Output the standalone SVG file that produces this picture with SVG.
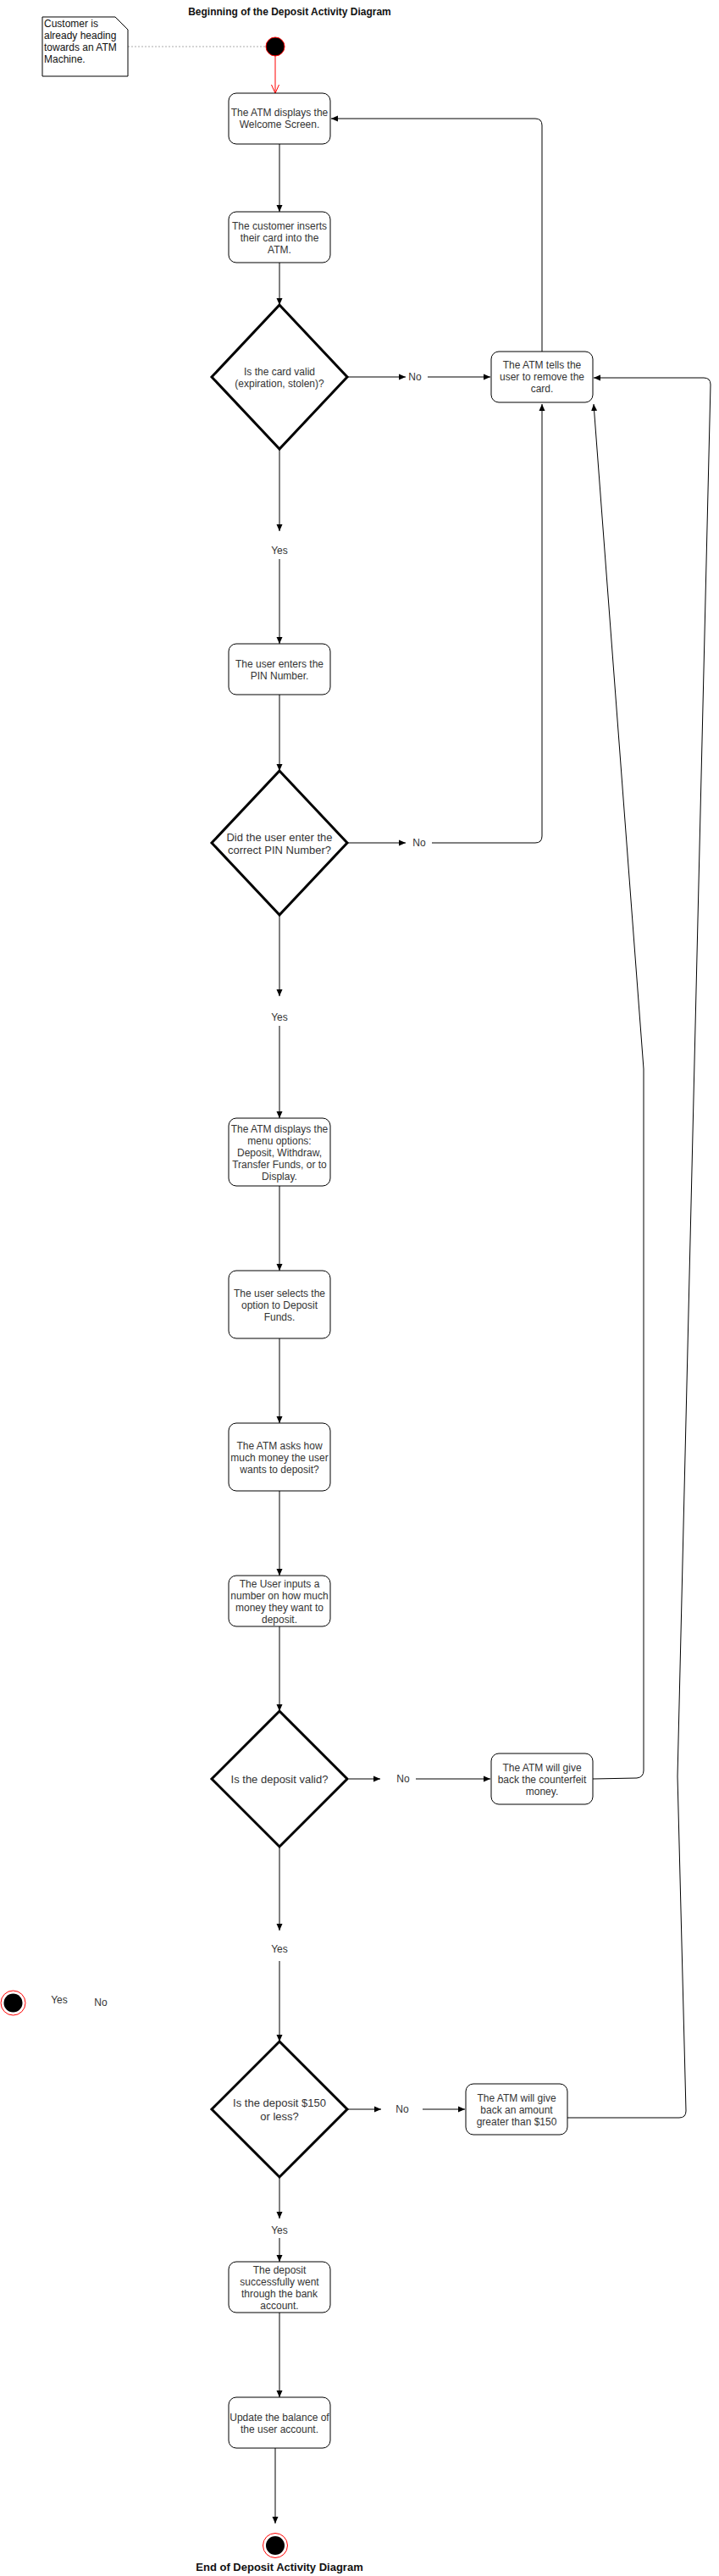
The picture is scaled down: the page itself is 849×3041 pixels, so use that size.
<svg xmlns="http://www.w3.org/2000/svg" width="849" height="3041" viewBox="0 0 849 3041">
<style>
text{font-family:"Liberation Sans",Arial,Helvetica,sans-serif;font-size:12px;fill:#333;text-anchor:middle}
.t13{font-size:13px}
.bold{font-weight:bold;fill:#111}
.left{text-anchor:start;fill:#111}
.box{fill:#fff;stroke:#000;stroke-width:1}
.dia{fill:#fff;stroke:#000;stroke-width:3}
.c{fill:none;stroke:#000;stroke-width:1}
</style>
<defs>
<marker id="arr" viewBox="0 0 8 8" refX="8" refY="4" markerWidth="8" markerHeight="8" markerUnits="userSpaceOnUse" orient="auto"><path d="M0,0.5 L8,4 L0,7.5 Z" fill="#000"/></marker>
<marker id="open" viewBox="0 0 10 10" refX="10" refY="5" markerWidth="10" markerHeight="10" markerUnits="userSpaceOnUse" orient="auto"><path d="M0,0.5 L10,5 L0,9.5" fill="none" stroke="#f00" stroke-width="1"/></marker>
</defs>
<rect width="849" height="3041" fill="#fff"/>

<g id="connectors">
<path d="M151,55 L314,55" fill="none" stroke="#aaa" stroke-width="1" stroke-dasharray="2 2"/>
<path d="M325,66 L325,110" fill="none" stroke="#f00" marker-end="url(#open)"/>
<path class="c" d="M330,170 L330,250" marker-end="url(#arr)"/>
<path class="c" d="M330,310 L330,360" marker-end="url(#arr)"/>
<path class="c" d="M330,530 L330,627" marker-end="url(#arr)"/>
<path class="c" d="M330,660 L330,760" marker-end="url(#arr)"/>
<path class="c" d="M330,810 L330,910" marker-end="url(#arr)"/>
<path class="c" d="M330,1080 L330,1176" marker-end="url(#arr)"/>
<path class="c" d="M330,1211 L330,1320" marker-end="url(#arr)"/>
<path class="c" d="M330,1400 L330,1500" marker-end="url(#arr)"/>
<path class="c" d="M330,1580 L330,1680" marker-end="url(#arr)"/>
<path class="c" d="M330,1760 L330,1860" marker-end="url(#arr)"/>
<path class="c" d="M330,1920 L330,2020" marker-end="url(#arr)"/>
<path class="c" d="M330,2180 L330,2279" marker-end="url(#arr)"/>
<path class="c" d="M330,2315 L330,2410" marker-end="url(#arr)"/>
<path class="c" d="M330,2570 L330,2619" marker-end="url(#arr)"/>
<path class="c" d="M330,2642 L330,2670" marker-end="url(#arr)"/>
<path class="c" d="M330,2730 L330,2830" marker-end="url(#arr)"/>
<path class="c" d="M325,2880 L325,2979" marker-end="url(#arr)"/>
<path class="c" d="M410,445 L479,445" marker-end="url(#arr)"/>
<path class="c" d="M505,445 L579,445" marker-end="url(#arr)"/>
<path class="c" d="M410,995 L479,995" marker-end="url(#arr)"/>
<path class="c" d="M510,995 L632,995 Q640,995 640,987 L640,477" marker-end="url(#arr)"/>
<path class="c" d="M640,415 L640,148 Q640,140 632,140 L391,140" marker-end="url(#arr)"/>
<path class="c" d="M412,2100 L449,2100" marker-end="url(#arr)"/>
<path class="c" d="M491,2100 L579,2100" marker-end="url(#arr)"/>
<path class="c" d="M700,2100 L752,2099 Q760,2098 760,2090 L760,1262 L701,477" marker-end="url(#arr)"/>
<path class="c" d="M410,2490 L450,2490" marker-end="url(#arr)"/>
<path class="c" d="M499,2490 L549,2490" marker-end="url(#arr)"/>
<path class="c" d="M670,2500 L802,2500 Q810,2500 810,2492 L800,2097 L839,454 Q839,446 831,446 L701,446" marker-end="url(#arr)"/>
</g>

<g id="title-start"><text class="bold" x="342" y="18">Beginning of the Deposit Activity Diagram</text></g>

<g id="note">
<path d="M50,20 L136,20 L151,35 L151,90 L50,90 Z" fill="#fff" stroke="#000" stroke-width="1"/>
<text class="left" x="52" y="32">Customer is</text>
<text class="left" x="52" y="46">already heading</text>
<text class="left" x="52" y="60">towards an ATM</text>
<text class="left" x="52" y="74">Machine.</text>
</g>

<g id="start"><circle cx="325" cy="55" r="11" fill="#000" stroke="#f00" stroke-width="1"/></g>

<g id="welcome"><rect class="box" x="270" y="110" width="120" height="60" rx="9"/>
<text x="330" y="137">The ATM displays the</text><text x="330" y="151">Welcome Screen.</text></g>

<g id="insert-card"><rect class="box" x="270" y="250" width="120" height="60" rx="9"/>
<text x="330" y="271">The customer inserts</text><text x="330" y="285">their card into the</text><text x="330" y="299">ATM.</text></g>

<g id="card-valid"><polygon class="dia" points="330,360 410,445 330,530 250,445"/>
<text x="330" y="443">Is the card valid</text><text x="330" y="457">(expiration, stolen)?</text></g>

<g id="remove-card"><rect class="box" x="580" y="415" width="120" height="60" rx="9"/>
<text x="640" y="435">The ATM tells the</text><text x="640" y="449">user to remove the</text><text x="640" y="463">card.</text></g>

<g id="enter-pin"><rect class="box" x="270" y="760" width="120" height="60" rx="9"/>
<text x="330" y="788">The user enters the</text><text x="330" y="802">PIN Number.</text></g>

<g id="pin-correct"><polygon class="dia" points="330,910 410,995 330,1080 250,995"/>
<text class="t13" x="330" y="993">Did the user enter the</text><text class="t13" x="330" y="1008">correct PIN Number?</text></g>

<g id="menu"><rect class="box" x="270" y="1320" width="120" height="80" rx="9"/>
<text x="330" y="1337">The ATM displays the</text><text x="330" y="1351">menu options:</text><text x="330" y="1365">Deposit, Withdraw,</text><text x="330" y="1379">Transfer Funds, or to</text><text x="330" y="1393">Display.</text></g>

<g id="select-deposit"><rect class="box" x="270" y="1500" width="120" height="80" rx="9"/>
<text x="330" y="1531">The user selects the</text><text x="330" y="1545">option to Deposit</text><text x="330" y="1559">Funds.</text></g>

<g id="ask-amount"><rect class="box" x="270" y="1680" width="120" height="80" rx="9"/>
<text x="330" y="1711">The ATM asks how</text><text x="330" y="1725">much money the user</text><text x="330" y="1739">wants to deposit?</text></g>

<g id="input-amount"><rect class="box" x="270" y="1860" width="120" height="60" rx="9"/>
<text x="330" y="1874">The User inputs a</text><text x="330" y="1888">number on how much</text><text x="330" y="1902">money they want to</text><text x="330" y="1916">deposit.</text></g>

<g id="deposit-valid"><polygon class="dia" points="330,2020 410,2100 330,2180 250,2100"/>
<text class="t13" x="330" y="2104.5">Is the deposit valid?</text></g>

<g id="counterfeit"><rect class="box" x="580" y="2070" width="120" height="60" rx="9"/>
<text x="640" y="2091">The ATM will give</text><text x="640" y="2105">back the counterfeit</text><text x="640" y="2119">money.</text></g>

<g id="deposit-150"><polygon class="dia" points="330,2410 410,2490 330,2570 250,2490"/>
<text class="t13" x="330" y="2487">Is the deposit $150</text><text class="t13" x="330" y="2503">or less?</text></g>

<g id="over-150"><rect class="box" x="550" y="2460" width="120" height="60" rx="9"/>
<text x="610" y="2481">The ATM will give</text><text x="610" y="2495">back an amount</text><text x="610" y="2509">greater than $150</text></g>

<g id="success"><rect class="box" x="270" y="2670" width="120" height="60" rx="9"/>
<text x="330" y="2683.5">The deposit</text><text x="330" y="2697.5">successfully went</text><text x="330" y="2711.5">through the bank</text><text x="330" y="2725.5">account.</text></g>

<g id="update-balance"><rect class="box" x="270" y="2830" width="120" height="60" rx="9"/>
<text x="330" y="2857.5">Update the balance of</text><text x="330" y="2872">the user account.</text></g>

<g id="end"><circle cx="325" cy="3005" r="14.5" fill="#fff" stroke="#f00" stroke-width="1"/><circle cx="325" cy="3005" r="11" fill="#000"/></g>
<g id="title-end"><text class="bold t13" x="330" y="3035">End of Deposit Activity Diagram</text></g>

<g id="stray-end"><circle cx="15.5" cy="2364.5" r="14.5" fill="#fff" stroke="#f00" stroke-width="1"/><circle cx="15.5" cy="2364.5" r="11" fill="#000"/></g>

<g id="labels">
<text x="490" y="449">No</text>
<text x="330" y="654">Yes</text>
<text x="495" y="999">No</text>
<text x="330" y="1205">Yes</text>
<text x="476" y="2104">No</text>
<text x="330" y="2305">Yes</text>
<text x="475" y="2494">No</text>
<text x="330" y="2637">Yes</text>
<text x="70" y="2365">Yes</text>
<text x="119" y="2368">No</text>
</g>
</svg>
